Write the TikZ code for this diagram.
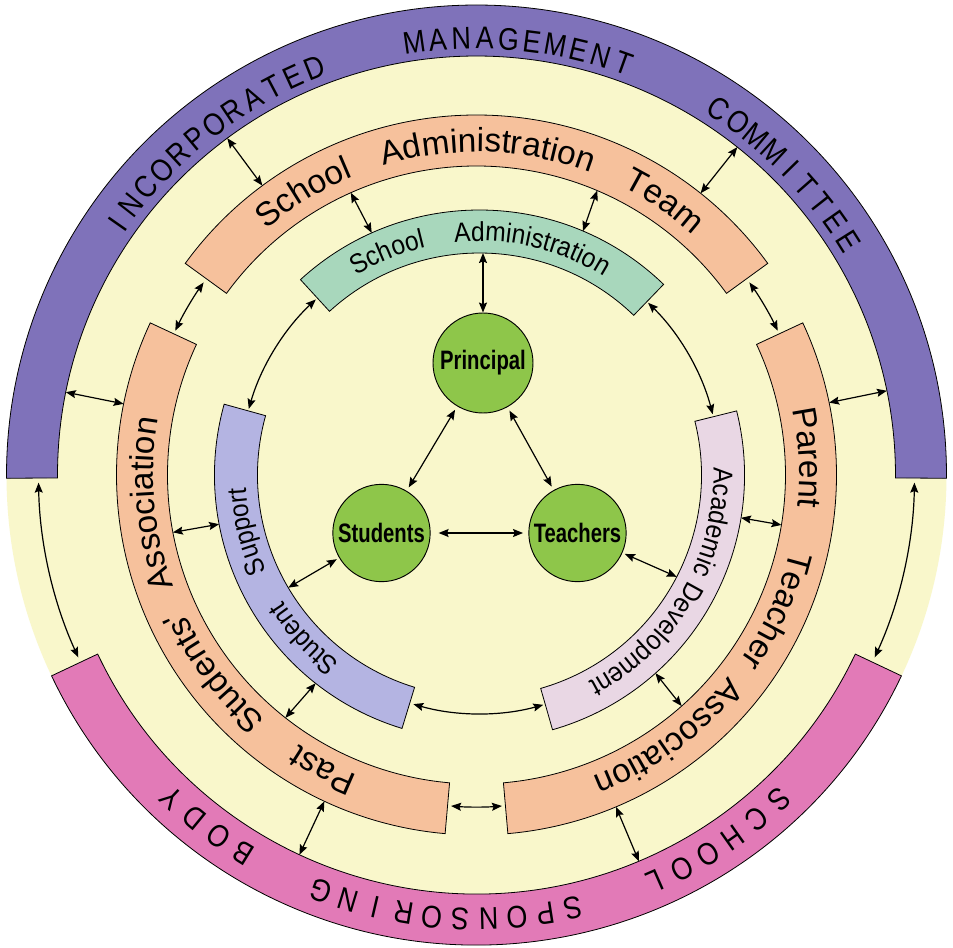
\documentclass[tikz,border=0pt]{standalone}
\usepackage{fontspec}
\setmainfont{Liberation Sans}
\newfontfamily\outerfont[FakeStretch=0.86]{Liberation Sans}
\newfontfamily\bandfont[Ligatures=TeXOff]{Liberation Sans}
\newfontfamily\innerfont[FakeStretch=0.9]{Liberation Sans}
\newfontfamily\circfont[FakeStretch=0.76]{Liberation Sans}
\usetikzlibrary{arrows.meta,decorations.text,calc}

\definecolor{bgyellow}{RGB}{249,247,203}
\definecolor{purpleband}{RGB}{127,114,186}
\definecolor{pinkband}{RGB}{226,122,183}
\definecolor{orangeband}{RGB}{246,193,156}
\definecolor{greenband}{RGB}{168,215,188}
\definecolor{lavband}{RGB}{180,180,226}
\definecolor{acadband}{RGB}{233,215,228}
\definecolor{circgreen}{RGB}{142,198,74}

% colour, angle 1, angle 2, inner radius, outer radius
\newcommand\ringband[5]{%
  \draw[bandline, fill=#1] (#2:#4) arc[start angle=#2, end angle=#3, radius=#4]
    -- (#3:#5) arc[start angle=#3, end angle=#2, radius=#5] -- cycle;}
% font, centre angle, baseline radius, word
\newcommand\arcword[4]{%
  \pgfmathsetmacro\awA{#2+50}\pgfmathsetmacro\awB{#2-50}%
  \path[decorate, decoration={text along path, text align=center, text={|#1|#4}}]
    (\awA:#3) arc[start angle=\awA, end angle=\awB, radius=#3];}
% name, first angle, step, radius, letters
\newcommand\outerword[5]{%
  \foreach \ch [count=\i] in {#5} {%
    \pgfmathsetmacro\oang{#2-(\i-1)*#3}%
    \node[outerletter, rotate=\oang-90] (#1\i) at (\oang:#4) {\ch};
  }}
\newcommand\bandfnt{\bandfont\fontsize{25}{25}\selectfont}
\newcommand\innerfnt{\innerfont\fontsize{20.5}{20.5}\selectfont}

\begin{document}
\begin{tikzpicture}[x=0.75pt,y=0.75pt,
  bandline/.style={draw=black, line width=0.6pt},
  conn/.style={arrows={Stealth[length=7.5pt,width=6pt,inset=1.2pt]-Stealth[length=7.5pt,width=6pt,inset=1.2pt]}, line width=0.9pt},
  person/.style={circle, draw=black, line width=0.7pt, fill=circgreen, inner sep=0pt,
    font=\circfont\bfseries\fontsize{20}{20}\selectfont},
  outerletter/.style={inner sep=0pt, font=\outerfont\fontsize{23.5}{23.5}\selectfont}]
\fill[white] (-476.5,-472) rectangle (476.5,475);
\useasboundingbox (-476.5,-472) rectangle (476.5,475);
\fill[bgyellow] (0,0) circle[radius=470];

% outer bands
\ringband{purpleband}{180.4}{-0.4}{419}{470}
\ringband{pinkband}{205.3}{334.7}{419}{470}
% middle bands
\ringband{orangeband}{144}{36}{309}{360}
\ringband{orangeband}{265}{155}{309}{360}
\ringband{orangeband}{25}{-85}{309}{360}
% inner bands
\begin{scope}[shift={(3,0)}]
\ringband{greenband}{132.5}{46}{222}{265}
\ringband{lavband}{253}{164.5}{222}{265}
\ringband{acadband}{14}{-74}{222}{265}
\end{scope}

% outer texts
\outerword{inc}{145}{3.03}{438}{I,N,C,O,R,P,O,R,A,T,E,D}
\outerword{man}{98.2}{3.1}{437}{M,A,N,A,G,E,M,E,N,T}
\outerword{com}{56.5}{3.04}{439}{C,O,M,M,I,T,T,E,E}
\outerword{sch}{-47}{3.86}{444}{S,C,H,O,O,L}
\outerword{spo}{-77.4}{3.68}{444}{S,P,O,N,S,O,R,I,N,G}
\outerword{bod}{-121.7}{3.87}{444}{B,O,D,Y}

% middle texts
\arcword{\bandfnt}{121.5}{323}{School}
\arcword{\bandfnt}{88}{323}{Administration}
\arcword{\bandfnt}{55.5}{323}{Team}
\arcword{\bandfnt}{242.5}{323}{Past}
\arcword{\bandfnt}{217}{323}{Students'}
\arcword{\bandfnt}{185}{323}{Association}
\arcword{\bandfnt}{3}{323}{Parent}
\arcword{\bandfnt}{-24.3}{323}{Teacher}
\arcword{\bandfnt}{-53.8}{323}{Association}

% inner texts
\begin{scope}[shift={(3,0)}]
\arcword{\innerfnt}{112.5}{234}{School}
\arcword{\innerfnt}{77}{234}{Administration}
\arcword{\innerfnt}{193.7}{234}{Support}
\arcword{\innerfnt}{223}{234}{Student}
\arcword{\innerfnt}{-11.4}{234}{Academic}
\arcword{\innerfnt}{-44.5}{234}{Development}
\end{scope}

% circles
\node[person, minimum size=75pt] (prin) at (6.5,112) {Principal};
\node[person, minimum size=73pt] (stud) at (-95,-58) {Students};
\node[person, minimum size=73pt] (teach) at (101,-58) {Teachers};

% connection points on the bands
\coordinate (imc-a) at (126.5:419); \coordinate (sat-a) at (126.5:360);
\coordinate (imc-b) at (51.5:419);  \coordinate (sat-b) at (51.5:360);
\coordinate (imc-c) at (168.6:419); \coordinate (psa-a) at (168.6:360);
\coordinate (imc-d) at (11.6:419);  \coordinate (pta-a) at (11.6:360);
\coordinate (ssb-a) at (245:419);   \coordinate (psa-b) at (245:360);
\coordinate (ssb-b) at (-67.2:419); \coordinate (pta-b) at (-67.2:360);
\coordinate (sat-c) at (114:309);   \coordinate (sa-a) at ($(3,0)+(114:265)$);
\coordinate (sat-d) at (67:309);    \coordinate (sa-b) at ($(3,0)+(67:265)$);
\coordinate (psa-c) at (190.7:309); \coordinate (ss-a) at ($(3,0)+(190.7:265)$);
\coordinate (pta-c) at (-9.3:309);  \coordinate (ad-a) at ($(3,0)+(-9.3:265)$);
\coordinate (psa-d) at (231.8:309); \coordinate (ss-b) at ($(3,0)+(231.8:265)$);
\coordinate (pta-d) at (-48.4:309); \coordinate (ad-b) at ($(3,0)+(-48.4:265)$);
\coordinate (sa-c) at (6.5,222);
\coordinate (ss-c) at ($(3,0)+(210.5:222)$);
\coordinate (ad-c) at ($(3,0)+(-27.3:222)$);
\coordinate (imc-e) at (181:438);
\coordinate (imc-f) at (-1:438);
\coordinate (sat-e) at (144.8:334);
\coordinate (sat-f) at (35.2:334);
\coordinate (psa-e) at (265.6:332);
\coordinate (sa-d) at ($(3,0)+(133:240)$);
\coordinate (sa-e) at ($(3,0)+(45.6:241)$);
\coordinate (ss-d) at ($(3,0)+(253.9:238.5)$);

% radial connectors
\draw[conn] (imc-a) -- (sat-a);
\draw[conn] (imc-b) -- (sat-b);
\draw[conn] (imc-c) -- (psa-a);
\draw[conn] (imc-d) -- (pta-a);
\draw[conn] (ssb-a) -- (psa-b);
\draw[conn] (ssb-b) -- (pta-b);
\draw[conn] (sat-c) -- (sa-a);
\draw[conn] (sat-d) -- (sa-b);
\draw[conn] (psa-c) -- (ss-a);
\draw[conn] (pta-c) -- (ad-a);
\draw[conn] (psa-d) -- (ss-b);
\draw[conn] (pta-d) -- (ad-b);
\draw[conn] (sa-c) -- (prin);
\draw[conn, shorten >=2pt] (ss-c) -- (stud);
\draw[conn, shorten >=2pt] (ad-c) -- (teach);

% curved connectors along the rings
\draw[conn] (imc-e) arc[start angle=181, end angle=204.6, radius=438];
\draw[conn] (imc-f) arc[start angle=-1, end angle=-24.6, radius=438];
\draw[conn] (sat-e) arc[start angle=144.8, end angle=154.4, radius=334];
\draw[conn] (sat-f) arc[start angle=35.2, end angle=25.6, radius=334];
\draw[conn] (psa-e) arc[start angle=265.6, end angle=274.4, radius=332];
\draw[conn] (sa-d) arc[start angle=133, end angle=164, radius=240];
\draw[conn] (sa-e) arc[start angle=45.6, end angle=14.6, radius=241];
\draw[conn] (ss-d) arc[start angle=253.9, end angle=285.5, radius=238.5];

% connectors between the circles
\draw[conn, shorten <=3pt, shorten >=3pt] (prin) -- (stud);
\draw[conn, shorten <=3pt, shorten >=3pt] (prin) -- (teach);
\draw[conn, shorten <=6pt, shorten >=4pt] (stud) -- (teach);
\end{tikzpicture}
\end{document}
